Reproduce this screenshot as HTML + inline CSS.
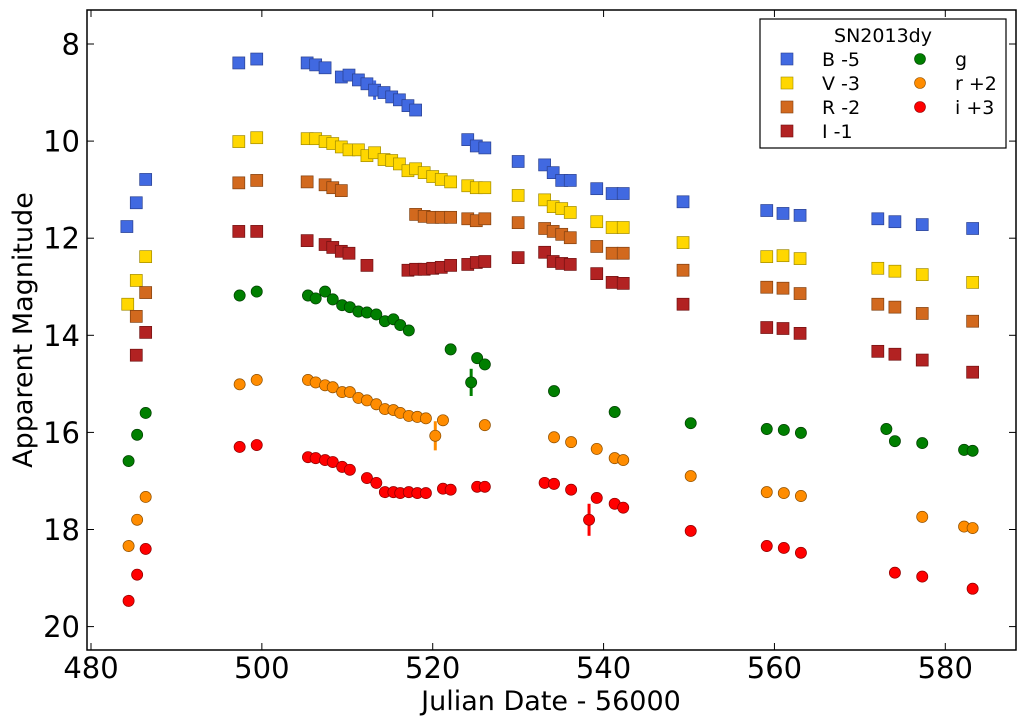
<!DOCTYPE html>
<html><head><meta charset="utf-8"><style>
html,body{margin:0;padding:0;background:#fff;}
svg{display:block;font-family:"DejaVu Sans","Liberation Sans",sans-serif;}
</style></head><body>
<svg id="chart" width="1025" height="728" viewBox="0 0 1025 728" xmlns="http://www.w3.org/2000/svg">
<rect x="0" y="0" width="1025" height="728" fill="#fff"/>
<g id="marks"></g>
<rect x="87" y="10" width="929" height="640" fill="none" stroke="#000" stroke-width="1.5"/>
<g id="axes"></g>
<text x="551" y="710" font-size="27" text-anchor="middle">Julian Date - 56000</text>
<text transform="translate(32,330) rotate(-90)" font-size="27" text-anchor="middle">Apparent Magnitude</text>
<g>
<rect x="760" y="19" width="246" height="129" fill="#fff" stroke="#000" stroke-width="1.2"/>
<text x="883" y="42" font-size="19" text-anchor="middle">SN2013dy</text>
<g><rect x="781" y="53" width="12" height="12" fill="#4169e1" stroke="#2a4090" stroke-width="0.6"/><text x="822" y="66" font-size="19">B -5</text></g>
<g><rect x="781" y="77" width="12" height="12" fill="#ffd700" stroke="#a08a00" stroke-width="0.6"/><text x="822" y="90" font-size="19">V -3</text></g>
<g><rect x="781" y="101" width="12" height="12" fill="#d2691e" stroke="#804010" stroke-width="0.6"/><text x="822" y="114" font-size="19">R -2</text></g>
<g><rect x="781" y="125" width="12" height="12" fill="#b22222" stroke="#701010" stroke-width="0.6"/><text x="822" y="138" font-size="19">I -1</text></g>
<g><circle cx="920" cy="59" r="5.5" fill="#007f00" stroke="#004000" stroke-width="0.6"/><text x="955" y="66" font-size="19">g</text></g>
<g><circle cx="920" cy="83" r="5.5" fill="#ff8c00" stroke="#905000" stroke-width="0.6"/><text x="955" y="90" font-size="19">r +2</text></g>
<g><circle cx="920" cy="107" r="5.5" fill="#ff0000" stroke="#900000" stroke-width="0.6"/><text x="955" y="114" font-size="19">i +3</text></g>
</g>
</svg>
<script>
const xTicks=[480,500,520,540,560,580];
const yTicks=[8,10,12,14,16,18,20];
const bJD=[484.2,485.3,486.4,497.3,499.4,505.3,506.3,507.4,509.3,510.2,511.3,512.3,513.2,514.3,515.2,516.1,517.1,518.0,524.1,525.1,526.1,530.0,533.1,534.1,535.1,536.1,539.2,541.0,542.3,549.3,559.1,561.0,563.0,572.1,574.1,577.3,583.2];
const bMag=[11.76,11.27,10.79,8.39,8.31,8.39,8.43,8.49,8.68,8.64,8.74,8.82,8.95,9.0,9.09,9.15,9.27,9.36,9.97,10.1,10.14,10.42,10.49,10.65,10.81,10.81,10.98,11.08,11.08,11.25,11.43,11.49,11.53,11.6,11.66,11.72,11.8];
const vJD=[484.3,485.3,486.4,497.3,499.4,505.3,506.3,507.4,508.3,509.3,510.2,511.3,512.3,513.2,514.3,515.2,516.1,517.1,518.0,519.0,520.0,521.0,522.1,524.1,525.1,526.1,530.0,533.1,534.1,535.1,536.1,539.2,541.0,542.3,549.3,559.1,561.0,563.0,572.1,574.1,577.3,583.2];
const vMag=[13.36,12.87,12.38,10.01,9.93,9.95,9.95,10.01,10.05,10.12,10.18,10.18,10.30,10.24,10.38,10.40,10.47,10.61,10.57,10.65,10.73,10.79,10.84,10.92,10.96,10.96,11.12,11.21,11.35,11.39,11.47,11.66,11.78,11.78,12.09,12.38,12.36,12.42,12.62,12.68,12.75,12.91];
const rJD=[485.3,486.4,497.3,499.4,505.3,507.4,508.3,509.3,518.0,519.0,520.0,521.0,522.1,524.1,525.1,526.1,530.0,533.1,534.1,535.1,536.1,539.2,541.0,542.3,549.3,559.1,561.0,563.0,572.1,574.1,577.3,583.2];
const rMag=[13.61,13.12,10.86,10.81,10.84,10.90,10.96,11.02,11.51,11.55,11.57,11.57,11.57,11.60,11.64,11.60,11.68,11.80,11.86,11.92,11.99,12.17,12.31,12.31,12.66,13.01,13.03,13.14,13.36,13.42,13.55,13.71];
const iJD=[485.3,486.4,497.3,499.4,505.3,507.4,508.3,509.3,510.2,512.3,517.1,518.0,519.0,520.0,521.0,522.1,524.1,525.1,526.1,530.0,533.1,534.1,535.1,536.1,539.2,541.0,542.3,549.3,559.1,561.0,563.0,572.1,574.1,577.3,583.2];
const iMag=[14.41,13.94,11.86,11.86,12.05,12.13,12.19,12.27,12.31,12.56,12.66,12.64,12.64,12.62,12.60,12.56,12.54,12.50,12.48,12.40,12.29,12.48,12.52,12.54,12.73,12.91,12.93,13.36,13.84,13.86,13.96,14.33,14.39,14.51,14.76];
const gJD=[484.4,485.4,486.4,497.4,499.4,505.4,506.3,507.4,508.3,509.4,510.3,511.3,512.3,513.4,514.4,515.4,516.2,517.2,522.1,524.5,525.2,526.1,534.2,541.3,550.2,559.1,561.1,563.1,573.1,574.1,577.3,582.2,583.2];
const gMag=[16.59,16.05,15.60,13.18,13.10,13.18,13.24,13.10,13.26,13.38,13.42,13.51,13.53,13.57,13.71,13.67,13.79,13.90,14.29,14.97,14.47,14.60,15.15,15.58,15.81,15.93,15.95,16.01,15.93,16.18,16.22,16.36,16.38];
const gErr=[0,0,0,0,0,0,0,0,0,0,0,0,0,0,0,0,0,0,0,0.28,0,0,0,0,0,0,0,0,0,0,0,0,0];
const sJD=[484.4,485.4,486.4,497.4,499.4,505.4,506.3,507.4,508.3,509.4,510.3,511.3,512.3,513.4,514.4,515.4,516.2,517.2,518.2,519.2,520.3,521.2,526.1,534.2,536.2,539.2,541.3,542.3,550.2,559.1,561.1,563.1,577.3,582.2,583.2];
const sMag=[18.34,17.80,17.33,15.01,14.92,14.92,14.97,15.03,15.07,15.17,15.17,15.29,15.34,15.42,15.52,15.54,15.60,15.66,15.68,15.71,16.07,15.75,15.85,16.10,16.20,16.34,16.53,16.57,16.90,17.23,17.25,17.31,17.74,17.94,17.97];
const sErr=[0,0,0,0,0,0,0,0,0,0,0,0,0,0,0,0,0,0,0,0,0.3,0,0,0,0,0,0,0,0,0,0,0,0,0,0];
const tJD=[484.4,485.4,486.4,497.4,499.4,505.4,506.3,507.4,508.3,509.4,510.3,512.3,513.4,514.4,515.4,516.2,517.2,518.2,519.2,521.2,522.1,525.2,526.1,533.1,534.2,536.2,538.3,539.2,541.3,542.3,550.2,559.1,561.1,563.1,574.1,577.3,583.2];
const tMag=[19.47,18.93,18.40,16.30,16.26,16.51,16.53,16.57,16.61,16.71,16.77,16.94,17.04,17.23,17.23,17.25,17.23,17.25,17.25,17.16,17.18,17.12,17.12,17.04,17.06,17.18,17.80,17.35,17.47,17.55,18.03,18.34,18.38,18.48,18.89,18.97,19.22];
const tErr=[0,0,0,0,0,0,0,0,0,0,0,0,0,0,0,0,0,0,0,0,0,0,0,0,0,0,0.33,0,0,0,0,0,0,0,0,0,0];
const bErr=bJD.map((d,k)=>k===12?0.2:0);

const NS="http://www.w3.org/2000/svg";
const X=v=>91+(v-480)*8.543;
const Y=m=>44+(m-8)*48.55;
const marks=document.getElementById('marks');
const axes=document.getElementById('axes');
function mk(tag,attrs,parent){const e=document.createElementNS(NS,tag);for(const k in attrs)e.setAttribute(k,attrs[k]);parent.appendChild(e);return e;}

xTicks.forEach(t=>{
  const g=mk('g',{},axes);
  
  
  mk('line',{x1:X(t),x2:X(t),y1:650,y2:643,stroke:'#000','stroke-width':1},g);
  mk('line',{x1:X(t),x2:X(t),y1:10,y2:17,stroke:'#000','stroke-width':1},g);
  const tx=mk('text',{x:X(t),y:678,'font-size':29,'text-anchor':'middle'},g);tx.textContent=t;
});
yTicks.forEach(t=>{
  const g=mk('g',{},axes);
  
  
  mk('line',{x1:87,x2:94,y1:Y(t),y2:Y(t),stroke:'#000','stroke-width':1},g);
  mk('line',{x1:1016,x2:1009,y1:Y(t),y2:Y(t),stroke:'#000','stroke-width':1},g);
  const tx=mk('text',{x:80,y:Y(t)+10.5,'font-size':29,'text-anchor':'end'},g);tx.textContent=t;
});

function series(name,jd,mag,err,shape,fill,stroke){
  const g=mk('g',{},marks);
  
  
  jd.forEach((d,k)=>{
    const cx=X(d),cy=Y(mag[k]);
    const e=err?err[k]:0;
    if(e>0){
      const l=mk('line',{x1:cx,x2:cx,y1:Y(mag[k]-e),y2:Y(mag[k]+e),stroke:fill,'stroke-width':3},g);
      
      
    }
    let m;
    if(shape==='s') m=mk('rect',{x:cx-6,y:cy-6,width:12,height:12,fill:fill,stroke:stroke,'stroke-width':0.7},g);
    else m=mk('circle',{cx:cx,cy:cy,r:5.6,fill:fill,stroke:stroke,'stroke-width':0.7},g);
    
    
  });
}
series('b',bJD,bMag,bErr,'s','#4169e1','#2a4090');
series('v',vJD,vMag,null,'s','#ffd700','#a08a00');
series('r',rJD,rMag,null,'s','#d2691e','#804010');
series('i',iJD,iMag,null,'s','#b22222','#701010');
series('g',gJD,gMag,gErr,'c','#007f00','#004000');
series('r-sloan',sJD,sMag,sErr,'c','#ff8c00','#905000');
series('i-sloan',tJD,tMag,tErr,'c','#ff0000','#900000');
</script>
</body></html>
